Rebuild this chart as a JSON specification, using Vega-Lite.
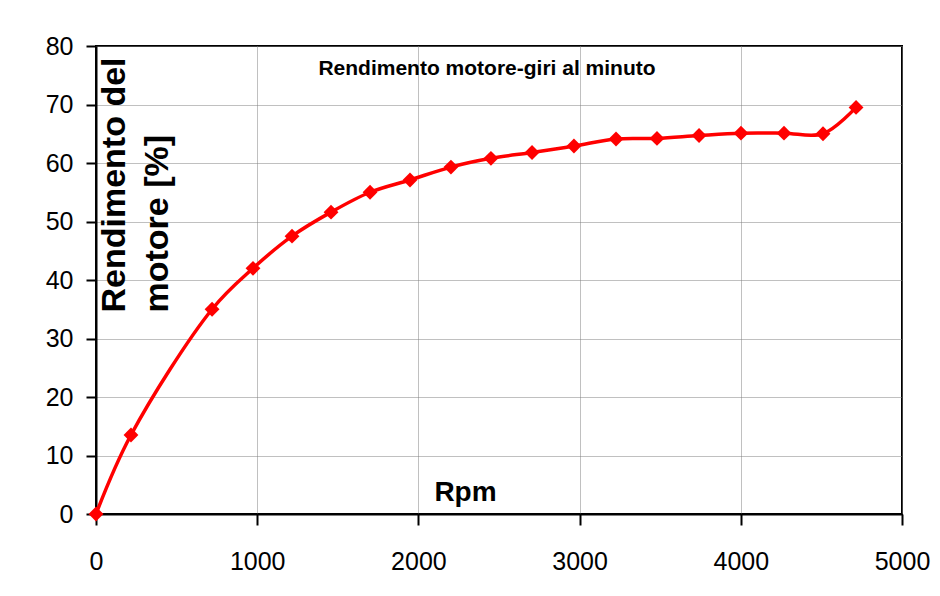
{
  "$schema": "https://vega.github.io/schema/vega-lite/v6.json",
  "width": 806,
  "height": 468,
  "autosize": {"type": "none"},
  "padding": {"left": 96, "top": 46, "right": 38, "bottom": 82},
  "background": "white",
  "title": {
    "text": "Rendimento motore-giri al minuto",
    "orient": "top",
    "anchor": "middle",
    "frame": "group",
    "offset": -62,
    "baseline": "alphabetic",
    "dx": -12,
    "font": "Liberation Sans",
    "fontSize": 21,
    "fontWeight": "bold",
    "color": "black"
  },
  "data": {
    "values": [
      {"rpm": 0, "rendimento": 0},
      {"rpm": 217, "rendimento": 13.5},
      {"rpm": 720, "rendimento": 35.0},
      {"rpm": 974, "rendimento": 42.0},
      {"rpm": 1216, "rendimento": 47.5},
      {"rpm": 1458, "rendimento": 51.6},
      {"rpm": 1700, "rendimento": 55.0},
      {"rpm": 1948, "rendimento": 57.1},
      {"rpm": 2202, "rendimento": 59.3},
      {"rpm": 2450, "rendimento": 60.8},
      {"rpm": 2705, "rendimento": 61.8},
      {"rpm": 2965, "rendimento": 62.9},
      {"rpm": 3226, "rendimento": 64.1},
      {"rpm": 3480, "rendimento": 64.2},
      {"rpm": 3741, "rendimento": 64.7},
      {"rpm": 4001, "rendimento": 65.1},
      {"rpm": 4268, "rendimento": 65.1},
      {"rpm": 4510, "rendimento": 65.0},
      {"rpm": 4715, "rendimento": 69.5}
    ]
  },
  "encoding": {
    "x": {
      "field": "rpm",
      "type": "quantitative",
      "scale": {"domain": [0, 5000], "nice": false, "zero": false},
      "axis": {
        "values": [0, 1000, 2000, 3000, 4000, 5000],
        "format": "d",
        "title": "Rpm",
        "titleFont": "Liberation Sans",
        "titleFontSize": 28,
        "titleFontWeight": "bold",
        "titleColor": "black",
        "titleX": 369,
        "titleY": -14,
        "titleAlign": "center",
        "titleBaseline": "alphabetic",
        "labelFont": "Liberation Sans",
        "labelFontSize": 25,
        "labelColor": "black",
        "labelPadding": 24,
        "labelFlush": false,
        "labelOverlap": false,
        "tickColor": "black",
        "tickSize": 11,
        "tickWidth": 2,
        "domainColor": "black",
        "domainWidth": 2,
        "gridColor": "#808080",
        "gridDash": [1, 1],
        "gridWidth": 1
      }
    },
    "y": {
      "field": "rendimento",
      "type": "quantitative",
      "scale": {"domain": [0, 80], "nice": false},
      "axis": {
        "values": [0, 10, 20, 30, 40, 50, 60, 70, 80],
        "format": "d",
        "title": ["Rendimento del", "motore [%]"],
        "titleFont": "Liberation Sans",
        "titleFontSize": 34,
        "titleFontWeight": "bold",
        "titleColor": "black",
        "titleAngle": -90,
        "titleAlign": "left",
        "titleBaseline": "alphabetic",
        "titleX": 28,
        "titleY": 266,
        "titleLineHeight": 43,
        "labelFont": "Liberation Sans",
        "labelFontSize": 25,
        "labelColor": "black",
        "labelPadding": 13,
        "labelFlush": false,
        "labelOverlap": false,
        "tickColor": "black",
        "tickSize": 10,
        "tickWidth": 2,
        "domainColor": "black",
        "domainWidth": 2,
        "gridColor": "#808080",
        "gridDash": [1, 1],
        "gridWidth": 1
      }
    }
  },
  "layer": [
    {
      "mark": {"type": "line", "interpolate": "catmull-rom", "color": "#ff0000", "strokeWidth": 3.5}
    },
    {
      "mark": {"type": "point", "shape": "diamond", "filled": true, "color": "#ff0000", "size": 220, "opacity": 1}
    }
  ],
  "config": {
    "view": {"stroke": "black", "strokeWidth": 2}
  }
}
